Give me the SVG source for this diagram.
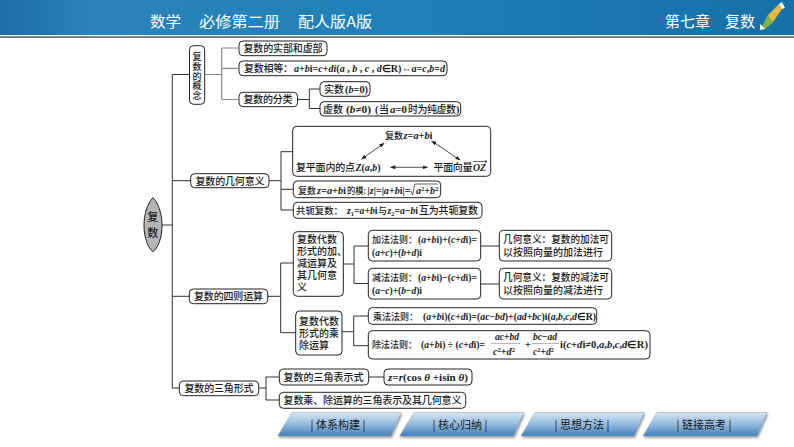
<svg xmlns="http://www.w3.org/2000/svg" width="794" height="447" viewBox="0 0 794 447">
<style>
text{font-family:"Noto Sans CJK SC","Liberation Sans",sans-serif;font-size:10px;fill:#1a1a1a;font-weight:500}
.sm{font-size:9px}
.b{fill:#fff;stroke:#222;stroke-width:1}
.i{font-family:"Liberation Serif",serif;font-style:italic;font-size:10px;font-weight:700}
.m{font-family:"Liberation Serif",serif;font-size:10px;font-weight:700;font-style:normal}
.s{font-family:"Liberation Serif",serif;font-size:6.5px;font-weight:700;font-style:normal}
.c{fill:none;stroke:#333;stroke-width:1}
.g{fill:none;stroke:#888;stroke-width:1.2}
.a{fill:none;stroke:#222;stroke-width:.8;marker-start:url(#ah);marker-end:url(#ah)}
.h{fill:#fff;font-size:15px;font-weight:400}
.n{fill:url(#nav);stroke:#8fa9c0;stroke-width:.5;filter:url(#sh)}
.t{font-size:11px;text-anchor:middle;font-weight:400}
</style>
<defs>
<linearGradient id="hd" x1="0" y1="0" x2="1" y2="0"><stop offset="0" stop-color="#1d6ea6"/><stop offset=".12" stop-color="#2c83b8"/><stop offset=".5" stop-color="#1f80b7"/><stop offset="1" stop-color="#1670a8"/></linearGradient>
<linearGradient id="nav" x1="0" y1="0" x2="0" y2="1"><stop offset="0" stop-color="#d6e6f4"/><stop offset=".5" stop-color="#93bbdf"/><stop offset="1" stop-color="#3f7fb8"/></linearGradient>
<filter id="sh" x="-10%" y="-10%" width="125%" height="130%"><feDropShadow dx="1" dy="1.5" stdDeviation=".8" flood-color="#666" flood-opacity=".7"/></filter>
<marker id="ah" viewBox="0 0 8 6" refX="7" refY="3" markerWidth="7" markerHeight="5" orient="auto-start-reverse"><path d="M0 0L8 3L0 6Z" fill="#222"/></marker>
</defs>
<rect width="794" height="447" fill="#fff"/>
<g id="header">
<rect width="794" height="35" fill="url(#hd)"/>
<rect y="35" width="794" height="1.5" fill="#e6f2ee"/>
<rect y="36.5" width="794" height="1.2" fill="#27342f"/>
<text class="h" x="150" y="27" textLength="31" lengthAdjust="spacingAndGlyphs">数学</text>
<text class="h" x="199" y="27" textLength="81" lengthAdjust="spacingAndGlyphs">必修第二册</text>
<text class="h" x="298" y="27" textLength="74" lengthAdjust="spacingAndGlyphs">配人版A版</text>
<text class="h" x="665" y="27" textLength="45" lengthAdjust="spacingAndGlyphs">第七章</text>
<text class="h" x="725" y="27" textLength="30" lengthAdjust="spacingAndGlyphs">复数</text>
<g id="pencil"><path d="M761 29L768 15L779 4L782 9L773 22L765 29Z" fill="#e6b93c"/><path d="M768 15L773 22L765 29L761 29Z" fill="#7cb342"/><path d="M779 4L782 2L785 8L782 9Z" fill="#fff"/><path d="M760 24L765 29L760 30Z" fill="#fff"/></g>
</g>
<g id="root"><path d="M153 197.7C159 204 162 215 162 225C162 238 158 248 153 251.7C148 248 144 238 144 225C144 215 147 204 153 197.7Z" fill="#b5b5b5" stroke="#222"/><text x="147.2" y="221" style="font-size:11px">复</text><text x="147.2" y="237" style="font-size:11px">数</text></g>
<g id="n1"><rect class="b" x="189.5" y="45.7" width="15.2" height="58.6" rx="4"/><text class="sm" x="192.6" y="59.5">复</text><text class="sm" x="192.6" y="69.5">数</text><text class="sm" x="192.6" y="79.5">的</text><text class="sm" x="192.6" y="89">概</text><text class="sm" x="192.6" y="99">念</text></g>
<g id="n1a"><rect class="b" x="239" y="41" width="88" height="14.7" rx="4"/><text x="243.5" y="52" textLength="79">复数的实部和虚部</text></g>
<g id="n1b"><rect class="b" x="239" y="61" width="208" height="14.7" rx="4"/><text x="244" y="72" textLength="49">复数相等：</text><text class="i" x="294" y="72" textLength="151" lengthAdjust="spacingAndGlyphs">a<tspan class="m">+</tspan>b<tspan class="m">i=</tspan>c<tspan class="m">+</tspan>di<tspan class="m">(</tspan>a<tspan class="m"> , </tspan>b<tspan class="m"> , </tspan>c<tspan class="m"> , </tspan>d<tspan class="m">∈R)⇔</tspan>a<tspan class="m">=</tspan>c<tspan class="m">,</tspan>b<tspan class="m">=</tspan>d</text></g>
<g id="n1c"><rect class="b" x="239" y="92.3" width="58.5" height="14.4" rx="4"/><text x="243.5" y="103" textLength="49">复数的分类</text></g>
<g id="n1c1"><rect class="b" x="320" y="81.7" width="50" height="14.6" rx="4"/><text x="324" y="92.5">实数</text><text class="m" x="345" y="92.5" textLength="23" lengthAdjust="spacingAndGlyphs">(<tspan class="i">b</tspan>=0)</text></g>
<g id="n1c2"><rect class="b" x="320" y="101.7" width="140.7" height="14.3" rx="4"/><text x="323" y="112.5">虚数</text><text class="m" x="346" y="112.5" textLength="25" lengthAdjust="spacingAndGlyphs">(<tspan class="i">b</tspan>≠0)</text><text class="m" x="375" y="112.5">(</text><text x="379" y="112.5">当</text><text class="m" x="390" y="112.5" textLength="17" lengthAdjust="spacingAndGlyphs"><tspan class="i">a</tspan>=0</text><text x="408" y="112.5" textLength="48">时为纯虚数</text><text class="m" x="456" y="112.5">)</text></g>
<g id="n2"><rect class="b" x="190.7" y="173.7" width="78.3" height="14" rx="4"/><text x="195.5" y="184.5" textLength="69">复数的几何意义</text></g>
<g id="n2a"><rect class="b" x="292.7" y="126.3" width="198" height="50" rx="4"/>
<text class="sm" x="385" y="138.5">复数</text><text class="i" x="403.5" y="138.5" textLength="29" lengthAdjust="spacingAndGlyphs">z<tspan class="m">=</tspan>a<tspan class="m">+</tspan>b<tspan class="m">i</tspan></text>
<text x="296" y="171" textLength="59">复平面内的点</text><text class="i" x="355.5" y="171" textLength="25" lengthAdjust="spacingAndGlyphs">Z<tspan class="m">(</tspan>a<tspan class="m">,</tspan>b<tspan class="m">)</tspan></text>
<text x="433.5" y="171" textLength="39">平面向量</text><text class="i" x="473" y="171" textLength="13" lengthAdjust="spacingAndGlyphs">OZ</text><path d="M473 161.5H487M484.5 160L487 161.5L484.5 163" fill="none" stroke="#222" stroke-width=".7"/></g>
<g id="n2b"><rect class="b" x="293.3" y="181" width="147.4" height="16.7" rx="4"/><text class="sm" x="298" y="193.5">复数</text><text class="i" x="317" y="193.5" textLength="29" lengthAdjust="spacingAndGlyphs">z<tspan class="m">=</tspan>a<tspan class="m">+</tspan>b<tspan class="m">i</tspan></text><text class="sm" x="347" y="193.5" textLength="19" lengthAdjust="spacingAndGlyphs">的模:</text><text class="m" x="367.5" y="193.5" textLength="43" lengthAdjust="spacingAndGlyphs">|<tspan class="i">z</tspan>|=|<tspan class="i">a</tspan>+<tspan class="i">b</tspan>i|=</text><path d="M411 191L412.5 195L415 184H438" fill="none" stroke="#222" stroke-width=".7"/><text class="i" x="416" y="193.5">a<tspan class="s" dy="-3">2</tspan><tspan class="m" dy="3">+</tspan>b<tspan class="s" dy="-3">2</tspan></text></g>
<g id="n2c"><rect class="b" x="293.3" y="202.3" width="188.7" height="16" rx="4"/><text class="sm" x="296" y="214" textLength="47" lengthAdjust="spacingAndGlyphs">共轭复数：</text><text class="i" x="347" y="214" textLength="30.5" lengthAdjust="spacingAndGlyphs">z<tspan class="s" dy="2">1</tspan><tspan class="m" dy="-2">=</tspan>a<tspan class="m">+</tspan>b<tspan class="m">i</tspan></text><text x="378" y="214" style="font-size:9px">与</text><text class="i" x="387.5" y="214" textLength="30.5" lengthAdjust="spacingAndGlyphs">z<tspan class="s" dy="2">2</tspan><tspan class="m" dy="-2">=</tspan>a<tspan class="m">−</tspan>b<tspan class="m">i</tspan></text><text x="419" y="214" textLength="59">互为共轭复数</text></g>
<g id="n3"><rect class="b" x="189.3" y="289" width="78.4" height="14.7" rx="4"/><text x="194" y="300" textLength="69">复数的四则运算</text></g>
<g id="n3a"><rect class="b" x="293.3" y="231.7" width="50" height="64.6" rx="4"/><text x="297" y="243">复数代数</text><text x="297" y="255">形式的加、</text><text x="297" y="267">减运算及</text><text x="297" y="279">其几何意</text><text x="297" y="291">义</text></g>
<g id="n3b"><rect class="b" x="295.7" y="311" width="46.3" height="44" rx="4"/><text x="299" y="325">复数代数</text><text x="299" y="337">形式的乘</text><text x="299" y="349">除运算</text></g>
<g id="n3a1"><rect class="b" x="368.3" y="230.3" width="112.4" height="30.7" rx="4"/><text class="sm" x="372" y="243">加法法则：</text><text class="m" x="418" y="243" textLength="59" lengthAdjust="spacingAndGlyphs">(<tspan class="i">a</tspan>+<tspan class="i">b</tspan>i)+(<tspan class="i">c</tspan>+<tspan class="i">d</tspan>i)=</text><text class="m" x="372" y="256" textLength="50" lengthAdjust="spacingAndGlyphs">(<tspan class="i">a</tspan>+<tspan class="i">c</tspan>)+(<tspan class="i">b</tspan>+<tspan class="i">d</tspan>)i</text></g>
<g id="n3a2"><rect class="b" x="368.3" y="268.3" width="112.4" height="30.7" rx="4"/><text class="sm" x="372" y="281">减法法则：</text><text class="m" x="418" y="281" textLength="59" lengthAdjust="spacingAndGlyphs">(<tspan class="i">a</tspan>+<tspan class="i">b</tspan>i)−(<tspan class="i">c</tspan>+<tspan class="i">d</tspan>i)=</text><text class="m" x="372" y="294" textLength="50" lengthAdjust="spacingAndGlyphs">(<tspan class="i">a</tspan>−<tspan class="i">c</tspan>)+(<tspan class="i">b</tspan>−<tspan class="i">d</tspan>)i</text></g>
<g id="n3a3"><rect class="b" x="499.3" y="230.3" width="112.4" height="30.7" rx="4"/><text x="503" y="243" textLength="106" lengthAdjust="spacingAndGlyphs">几何意义：复数的加法可</text><text x="503" y="256" textLength="100">以按照向量的加法进行</text></g>
<g id="n3a4"><rect class="b" x="499.3" y="268.3" width="112.4" height="30.7" rx="4"/><text x="503" y="281" textLength="106" lengthAdjust="spacingAndGlyphs">几何意义：复数的减法可</text><text x="503" y="294" textLength="100">以按照向量的减法进行</text></g>
<g id="n3b1"><rect class="b" x="368.3" y="307.7" width="228.4" height="16.6" rx="4"/><text class="sm" x="373" y="320">乘法法则：</text><text class="m" x="423" y="320" textLength="173" lengthAdjust="spacingAndGlyphs">(<tspan class="i">a</tspan>+<tspan class="i">b</tspan>i)(<tspan class="i">c</tspan>+<tspan class="i">d</tspan>i)=(<tspan class="i">ac</tspan>−<tspan class="i">bd</tspan>)+(<tspan class="i">ad</tspan>+<tspan class="i">bc</tspan>)i(<tspan class="i">a</tspan>,<tspan class="i">b</tspan>,<tspan class="i">c</tspan>,<tspan class="i">d</tspan>∈R)</text></g>
<g id="n3b2"><rect class="b" x="368.3" y="330.7" width="281.7" height="28.3" rx="4"/><text class="sm" x="372" y="348">除法法则：</text><text class="m" x="421" y="348" textLength="64" lengthAdjust="spacingAndGlyphs">(<tspan class="i">a</tspan>+<tspan class="i">b</tspan>i) ÷ (<tspan class="i">c</tspan>+<tspan class="i">d</tspan>i)=</text>
<text class="i" x="495" y="340" textLength="24" lengthAdjust="spacingAndGlyphs">ac<tspan class="m">+</tspan>bd</text><path d="M491 343.5H520M532 343.5H559" stroke="#999" stroke-width=".7" fill="none"/><text class="i" x="493" y="355" textLength="22" lengthAdjust="spacingAndGlyphs">c<tspan class="s" dy="-3">2</tspan><tspan class="m" dy="3">+</tspan>d<tspan class="s" dy="-3">2</tspan></text>
<text class="m" x="525" y="348">+</text><text class="i" x="533" y="340" textLength="24" lengthAdjust="spacingAndGlyphs">bc<tspan class="m">−</tspan>ad</text><text class="i" x="533" y="355" textLength="21" lengthAdjust="spacingAndGlyphs">c<tspan class="s" dy="-3">2</tspan><tspan class="m" dy="3">+</tspan>d<tspan class="s" dy="-3">2</tspan></text>
<text class="m" x="560" y="348" textLength="88" lengthAdjust="spacingAndGlyphs">i(<tspan class="i">c</tspan>+<tspan class="i">d</tspan>i≠0,<tspan class="i">a</tspan>,<tspan class="i">b</tspan>,<tspan class="i">c</tspan>,<tspan class="i">d</tspan>∈R)</text></g>
<g id="n4"><rect class="b" x="179.3" y="381" width="79.4" height="14.7" rx="4"/><text x="184.5" y="392" textLength="69">复数的三角形式</text></g>
<g id="n4a"><rect class="b" x="279.3" y="369" width="89.4" height="16" rx="4"/><text x="283.5" y="381" textLength="80">复数的三角表示式</text></g>
<g id="n4b"><rect class="b" x="384" y="369" width="88" height="16" rx="4"/><text class="m" x="388" y="381" textLength="80" lengthAdjust="spacingAndGlyphs"><tspan class="i">z</tspan>=<tspan class="i">r</tspan>(cos <tspan class="i">θ</tspan> +isin <tspan class="i">θ</tspan>)</text></g>
<g id="n4c"><rect class="b" x="279.3" y="392.3" width="186.4" height="16" rx="4"/><text x="283.5" y="404" textLength="178">复数乘、除运算的三角表示及其几何意义</text></g>
<g id="nav1"><path class="n" d="M292 412.5H401L391 436H277.7Z"/><text class="t" x="338" y="429">| 体系构建 |</text></g>
<g id="nav2"><path class="n" d="M414 412.5H523.6L513.6 436H399.5Z"/><text class="t" x="460" y="429">| 核心归纳 |</text></g>
<g id="nav3"><path class="n" d="M535 412.5H644L634 436H521Z"/><text class="t" x="582" y="429">| 思想方法 |</text></g>
<g id="nav4"><path class="n" d="M657 412.5H767L757 436H643Z"/><text class="t" x="704" y="429">| 链接高考 |</text></g>
<g id="connectors">
<path class="c" d="M189.5 74.5H172.3V388H179.3M172.3 180.7H190.7M172.3 296.3H189.3M162 225H172.3"/>
<path class="g" d="M204.7 74.5H221.7M221.7 48V99M221.7 48H239M221.7 68.3H239M221.7 99.5H239"/>
<path class="c" d="M297.5 99.5H309.3M309.3 89V108.5M309.3 89H320M309.3 108.5H320"/>
<path class="c" d="M269 180.7H281M281 151.7V210M281 151.7H293M281 189.3H293.3M281 210H293.3"/>
<path class="c" d="M267.7 296.3H280.7M280.7 263V332.7M280.7 263H293.3M280.7 332.7H295.7"/>
<path class="c" d="M343.3 264H354M354 246V283.5M354 246H368.3M354 283.5H368.3"/>
<path class="c" d="M342 331.7H353.7M353.7 316V345.7M353.7 316H368.3M353.7 345.7H368.3"/>
<path class="c" d="M480.7 246H499.3M480.7 284H499.3"/>
<path class="c" d="M258.7 388H266M266 377V400M266 377H279.3M266 400H279.3M368.7 377H384"/>
<path class="a" d="M361.7 159L384 143.3"/><path class="a" d="M431.7 141L460 160"/><path class="a" d="M390.7 167.3H427.3"/>
</g>
</svg>
